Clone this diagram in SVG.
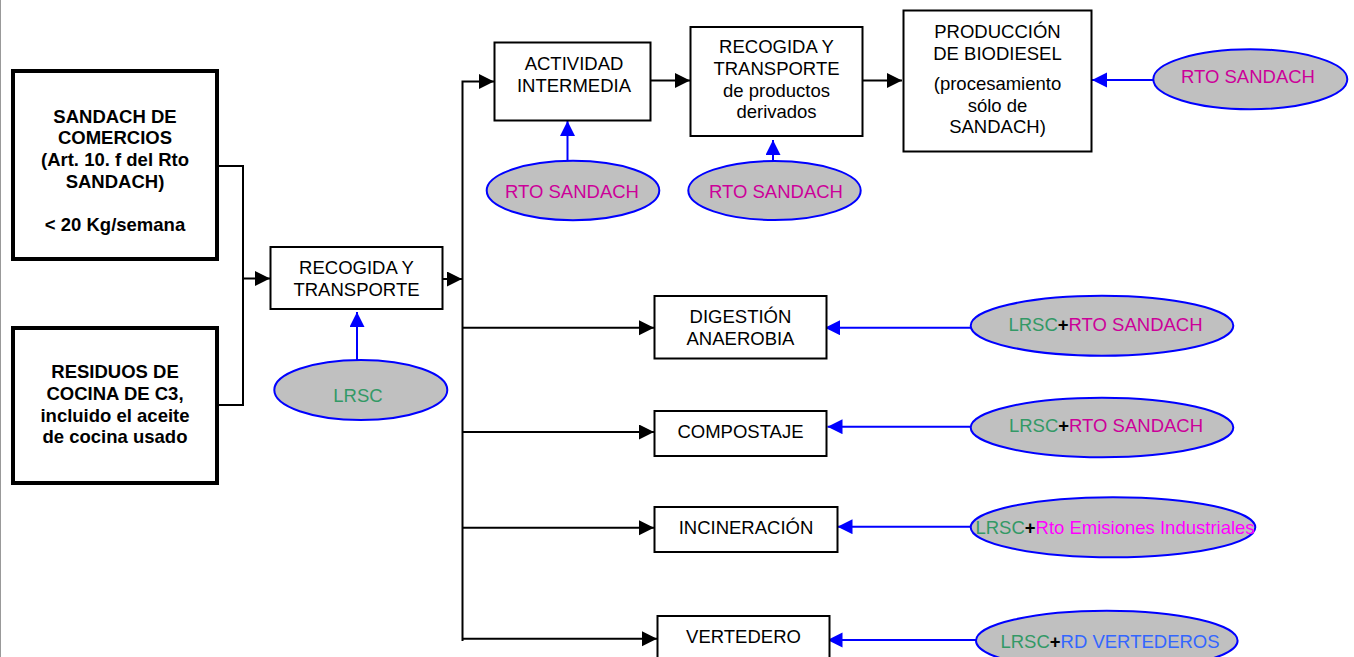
<svg xmlns="http://www.w3.org/2000/svg" width="1354" height="657" viewBox="0 0 1354 657">
<defs>
<style>
text{font-family:"Liberation Sans",Arial,sans-serif;font-size:18.5px;text-anchor:middle;fill:#000}
.b{font-weight:bold}
.box{fill:#fff;stroke:#000;stroke-width:2}
.thick{fill:#fff;stroke:#000;stroke-width:4}
.ell{fill:#c0c0c0;stroke:#0000ff;stroke-width:2}
.k{fill:none;stroke:#000;stroke-width:2}
.bl{fill:none;stroke:#0000ff;stroke-width:2}
.g{fill:#339966}
.m{fill:#cc0099}
.p{fill:#ff00ff}
.u{fill:#3366ff}
.plus{font-weight:bold}
</style>
<marker id="ak" markerUnits="userSpaceOnUse" markerWidth="16" markerHeight="16" refX="15" refY="7.5" orient="auto"><path d="M0,0 L15,7.5 L0,15 z" fill="#000"/></marker>
<marker id="ab" markerUnits="userSpaceOnUse" markerWidth="16" markerHeight="16" refX="15" refY="7.5" orient="auto"><path d="M0,0 L15,7.5 L0,15 z" fill="#0000ff"/></marker>
</defs>
<rect width="1354" height="657" fill="#fff"/>
<line x1="0.5" y1="0" x2="0.5" y2="657" stroke="#999" stroke-width="1"/>

<g id="connectors">
<path class="k" d="M219,166 H243 V405 H219"/>
<path class="k" d="M243,278.5 H270" marker-end="url(#ak)"/>
<path class="k" d="M442.7,279 H462" marker-end="url(#ak)"/>
<path class="k" d="M462.5,641 V81.5 H494" marker-end="url(#ak)"/>
<path class="k" d="M651,80.5 H690" marker-end="url(#ak)"/>
<path class="k" d="M863,80.5 H902" marker-end="url(#ak)"/>
<path class="k" d="M462.5,327.7 H654" marker-end="url(#ak)"/>
<path class="k" d="M462.5,432 H654" marker-end="url(#ak)"/>
<path class="k" d="M462.5,527.7 H654" marker-end="url(#ak)"/>
<path class="k" d="M462.5,638.7 H657" marker-end="url(#ak)"/>
<path class="bl" d="M357,360 V312" marker-end="url(#ab)"/>
<path class="bl" d="M567.5,161 V121" marker-end="url(#ab)"/>
<path class="bl" d="M773,161 V140" marker-end="url(#ab)"/>
<path class="bl" d="M1153.5,80 H1092" marker-end="url(#ab)"/>
<path class="bl" d="M971,327.7 H825" marker-end="url(#ab)"/>
<path class="bl" d="M971,426.7 H827.5" marker-end="url(#ab)"/>
<path class="bl" d="M971,526.7 H837.5" marker-end="url(#ab)"/>
<path class="bl" d="M976,640 H827.5" marker-end="url(#ab)"/>
</g>

<g id="sandach-comercios">
<rect class="thick" x="13" y="71" width="204" height="188"/>
<text class="b" x="115" y="122.7">SANDACH DE</text>
<text class="b" x="115" y="144.3">COMERCIOS</text>
<text class="b" x="115" y="166">(Art. 10. f del Rto</text>
<text class="b" x="115" y="187.7">SANDACH)</text>
<text class="b" x="115" y="230.7">&lt; 20 Kg/semana</text>
</g>

<g id="residuos-cocina">
<rect class="thick" x="13" y="328" width="204" height="155"/>
<text class="b" x="115" y="378.3">RESIDUOS DE</text>
<text class="b" x="115" y="400">COCINA DE C3,</text>
<text class="b" x="115" y="421.7">incluido el aceite</text>
<text class="b" x="115" y="443.3">de cocina usado</text>
</g>

<g id="recogida-transporte">
<rect class="box" x="270.5" y="247" width="172" height="62"/>
<text x="356.5" y="274.3">RECOGIDA Y</text>
<text x="356.5" y="296">TRANSPORTE</text>
</g>

<g id="lrsc-1">
<ellipse class="ell" cx="360.8" cy="390" rx="86.5" ry="30"/>
<text class="g" x="358" y="401.7">LRSC</text>
</g>

<g id="actividad-intermedia">
<rect class="box" x="494.5" y="42.5" width="156" height="78"/>
<text x="574" y="70">ACTIVIDAD</text>
<text x="574" y="91.7">INTERMEDIA</text>
</g>

<g id="rto-sandach-1">
<ellipse class="ell" cx="573" cy="190.5" rx="86.3" ry="29.7"/>
<text class="m" x="572" y="198.3">RTO SANDACH</text>
</g>

<g id="recogida-derivados">
<rect class="box" x="690.5" y="27" width="172" height="109"/>
<text x="776.5" y="53.3">RECOGIDA Y</text>
<text x="776.5" y="75">TRANSPORTE</text>
<text x="776.5" y="96.7">de productos</text>
<text x="776.5" y="118.3">derivados</text>
</g>

<g id="rto-sandach-2">
<ellipse class="ell" cx="774.5" cy="190.5" rx="86.2" ry="29.5"/>
<text class="m" x="776" y="198.3">RTO SANDACH</text>
</g>

<g id="produccion-biodiesel">
<rect class="box" x="903.5" y="10.5" width="188" height="141"/>
<text x="997.5" y="37.7">PRODUCCIÓN</text>
<text x="997.5" y="60">DE BIODIESEL</text>
<text x="997.5" y="90">(procesamiento</text>
<text x="997.5" y="111.7">sólo de</text>
<text x="997.5" y="132.7">SANDACH)</text>
</g>

<g id="rto-sandach-3">
<ellipse class="ell" cx="1250.3" cy="79.3" rx="97" ry="30"/>
<text class="m" x="1248" y="83.3">RTO SANDACH</text>
</g>

<g id="digestion-anaerobia">
<rect class="box" x="654.5" y="296" width="172" height="62.5"/>
<text x="740.5" y="323.3">DIGESTIÓN</text>
<text x="740.5" y="345">ANAEROBIA</text>
</g>

<g id="lrsc-rto-1">
<ellipse class="ell" cx="1102" cy="325.7" rx="131.3" ry="30"/>
<text x="1105.5" y="331"><tspan class="g">LRSC</tspan><tspan class="plus">+</tspan><tspan class="m">RTO SANDACH</tspan></text>
</g>

<g id="compostaje">
<rect class="box" x="654.5" y="411" width="172" height="45"/>
<text x="740.5" y="438.3">COMPOSTAJE</text>
</g>

<g id="lrsc-rto-2">
<ellipse class="ell" cx="1102" cy="427.5" rx="131.3" ry="29.8"/>
<text x="1106" y="431.7"><tspan class="g">LRSC</tspan><tspan class="plus">+</tspan><tspan class="m">RTO SANDACH</tspan></text>
</g>

<g id="incineracion">
<rect class="box" x="654.5" y="507" width="183" height="45"/>
<text x="746" y="534.3">INCINERACIÓN</text>
</g>

<g id="lrsc-emisiones">
<ellipse class="ell" cx="1113" cy="527.3" rx="142.3" ry="30"/>
<text x="1115" y="534.3"><tspan class="g">LRSC</tspan><tspan class="plus">+</tspan><tspan class="p">Rto Emisiones Industriales</tspan></text>
</g>

<g id="vertedero">
<rect class="box" x="657.5" y="616" width="172" height="60"/>
<text x="743.5" y="642.7">VERTEDERO</text>
</g>

<g id="lrsc-rd-vertederos">
<ellipse class="ell" cx="1106.8" cy="640.7" rx="130.8" ry="30"/>
<text x="1110" y="648.3"><tspan class="g">LRSC</tspan><tspan class="plus">+</tspan><tspan class="u">RD VERTEDEROS</tspan></text>
</g>
</svg>
